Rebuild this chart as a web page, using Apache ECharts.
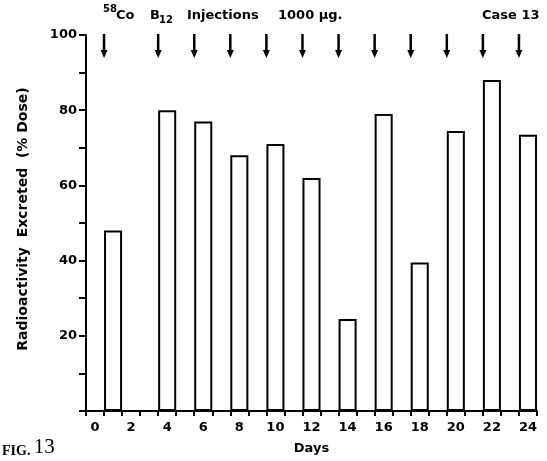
<!DOCTYPE html>
<html>
<head>
<meta charset="utf-8">
<script src="https://cdn.jsdelivr.net/npm/echarts@6/dist/echarts.min.js"></script>
<style>
html,body{margin:0;padding:0;background:#fff;}
#chart{width:547px;height:461px;}
</style>
</head>
<body>
<div id="chart"></div>
<script>
// ---- data ----
var days = ['0','1','2','3','4','5','6','7','8','9','10','11','12','13','14','15','16','17','18','19','20','21','22','23','24'];
var collectionDays = [1, 4, 6, 8, 10, 12, 14, 16, 18, 20, 22, 24];
var excreted = [48, 80, 77, 68, 71, 62, 24.5, 79, 39.5, 74.5, 88, 73.5];
var injectionDays = [1, 4, 6, 8, 10, 12, 14, 16, 18, 20, 22, 24];
var yTicks = [0, 20, 40, 60, 80, 100];

var barData = days.map(function () { return null; });
collectionDays.forEach(function (d, i) { barData[d] = excreted[i]; });

var FONT = 'DejaVu Sans';
var chart = echarts.init(document.getElementById('chart'));
chart.setOption({
  animation: false,
  backgroundColor: '#fff',
  grid: { left: 86, right: 10, top: 35, bottom: 50, containLabel: false },
  xAxis: {
    type: 'category',
    data: days,
    boundaryGap: true,
    name: 'Days',
    nameLocation: 'middle',
    nameGap: 31,
    nameTextStyle: { fontFamily: FONT, fontWeight: 'bold', fontSize: 13, color: '#000' },
    axisLine: { lineStyle: { color: '#000', width: 2 } },
    axisTick: { show: true, interval: 0, length: 5, lineStyle: { color: '#000', width: 2 } },
    axisLabel: { interval: 1, margin: 10, fontFamily: FONT, fontWeight: 'bold', fontSize: 13, color: '#000' },
    splitLine: { show: false }
  },
  yAxis: {
    type: 'value',
    min: yTicks[0],
    max: yTicks[yTicks.length - 1],
    interval: 20,
    name: 'Radioactivity  Excreted  (% Dose)',
    nameLocation: 'middle',
    nameGap: 56,
    nameRotate: 90,
    nameTextStyle: { fontFamily: FONT, fontWeight: 'bold', fontSize: 14, color: '#000', padding: [0, 0, 0, 8] },
    axisLine: { show: true, lineStyle: { color: '#000', width: 2 } },
    axisTick: { show: true, length: 7, lineStyle: { color: '#000', width: 2 } },
    minorTick: { show: true, splitNumber: 2, length: 7, lineStyle: { color: '#000', width: 2 } },
    axisLabel: {
      margin: 9, fontFamily: FONT, fontWeight: 'bold', fontSize: 13, color: '#000',
      formatter: function (v) { return v === 0 ? '' : String(v); }
    },
    splitLine: { show: false }
  },
  series: [
    {
      type: 'bar',
      data: barData,
      barWidth: '100%',
      barGap: '0%',
      itemStyle: { color: '#fff', borderColor: '#000', borderWidth: 2 }
    },
    {
      type: 'custom',
      clip: false,
      data: injectionDays.map(function (d) { return [d, 100]; }),
      encode: { x: 0, y: 1 },
      renderItem: function (params, api) {
        var c = api.coord([api.value(0), api.value(1)]);
        var bw = api.size([1, 0])[0];
        var x = c[0] - bw / 2;
        var y0 = c[1] - 1;
        var y1 = c[1] + 23;
        return {
          type: 'group',
          children: [
            { type: 'line', shape: { x1: x, y1: y0, x2: x, y2: y1 - 6 }, style: { stroke: '#000', lineWidth: 2.5 } },
            { type: 'polygon', shape: { points: [[x - 3.5, y1 - 8], [x + 3.5, y1 - 8], [x, y1]] }, style: { fill: '#000' } }
          ]
        };
      },
      z: 5
    }
  ],
  graphic: [
    { type: 'text', left: 103, top: 4, style: { text: '58', font: 'bold 10px "DejaVu Sans"', fill: '#000' } },
    { type: 'text', left: 116, top: 9, style: { text: 'Co', font: 'bold 13px "DejaVu Sans"', fill: '#000' } },
    { type: 'text', left: 150, top: 9, style: { text: 'B', font: 'bold 13px "DejaVu Sans"', fill: '#000' } },
    { type: 'text', left: 159, top: 15, style: { text: '12', font: 'bold 10px "DejaVu Sans"', fill: '#000' } },
    { type: 'text', left: 187, top: 9, style: { text: 'Injections', font: 'bold 13px "DejaVu Sans"', fill: '#000' } },
    { type: 'text', left: 278, top: 9, style: { text: '1000 µg.', font: 'bold 13px "DejaVu Sans"', fill: '#000' } },
    { type: 'text', left: 482, top: 9, style: { text: 'Case 13', font: 'bold 13px "DejaVu Sans"', fill: '#000' } },
    { type: 'text', left: 2, top: 437, style: {
        text: '{a|FIG.} {b|13}',
        rich: {
          a: { fontFamily: 'Liberation Serif', fontSize: 14, fontWeight: 'bold', fill: '#000', verticalAlign: 'bottom' },
          b: { fontFamily: 'Liberation Serif', fontSize: 21, fill: '#000', verticalAlign: 'bottom' }
        }
      } }
  ]
});
</script>
</body>
</html>
